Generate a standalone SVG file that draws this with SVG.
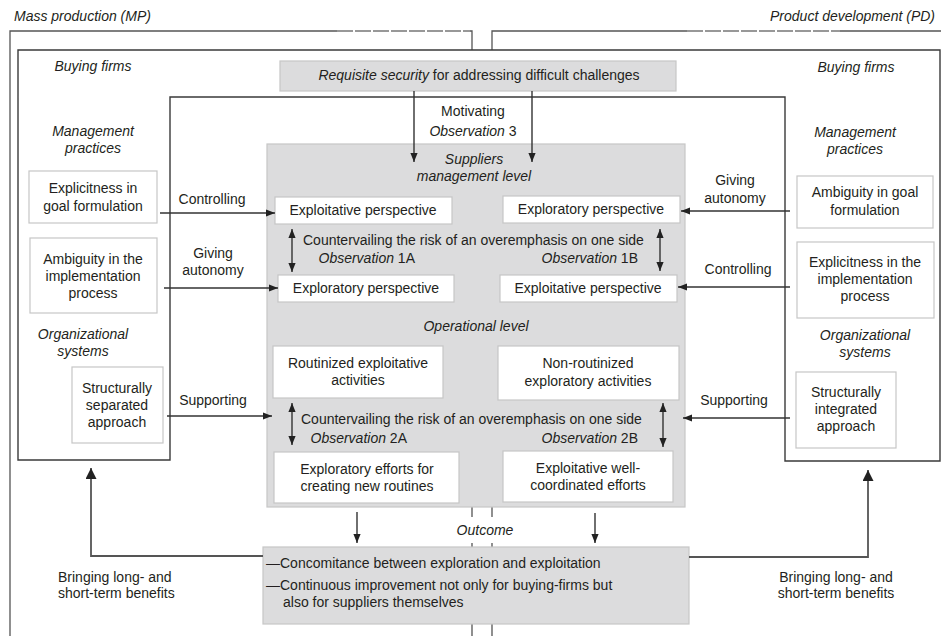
<svg xmlns="http://www.w3.org/2000/svg" width="941" height="636" viewBox="0 0 941 636">
<defs>
<style>
text{font-family:"Liberation Sans",Arial,Helvetica,sans-serif;font-size:14px;fill:#231f20}
.i{font-style:italic}
.m{text-anchor:middle}
.frame{fill:none;stroke:#555;stroke-width:1.3}
.dash{fill:none;stroke:#777;stroke-width:1.3;stroke-dasharray:16 2}
.inner{fill:#fff;stroke:#3a3a3a;stroke-width:1.4}
.grey{fill:#dcdcdd;stroke:#c6c6c6;stroke-width:1.2}
.box{fill:#fff;stroke:#c6c6c6;stroke-width:1.2}
.con{fill:none;stroke:#333;stroke-width:1.4}
.fb{fill:none;stroke:#555;stroke-width:1.8}
</style>
<marker id="ah" viewBox="0 0 10 8" refX="10" refY="4" markerWidth="9" markerHeight="8" markerUnits="userSpaceOnUse" orient="auto-start-reverse">
<path d="M0,0 L10,4 L0,8 z" fill="#222"/>
</marker>
<marker id="ahb" viewBox="0 0 10 10" refX="10" refY="5" markerWidth="11" markerHeight="11" markerUnits="userSpaceOnUse" orient="auto">
<path d="M0,0 L10,5 L0,10 z" fill="#222"/>
</marker>
</defs>

<g id="outer-frames">
<path class="frame" d="M10,636 V31 H337"/>
<path class="dash" d="M337,31 H470"/>
<path class="frame" d="M470,31 H472 V50"/>
<path class="frame" d="M492,50 V31 H687"/>
<path class="dash" d="M687,31 H840"/>
<path class="frame" d="M840,31 H941"/>
<path class="frame" d="M472,507 V517 M492,507 V517 M472,543 V547 M492,543 V547 M472,624 V636 M492,624 V636"/>
<text x="14" y="21" class="i">Mass production (MP)</text>
<text x="935" y="21" class="i" text-anchor="end">Product development (PD)</text>
</g>

<g id="buying-firms">
<path class="inner" d="M18,50 H940 V461 H785 V97 H170 V460 H18 Z"/>
<text x="93" y="71" class="i m">Buying firms</text>
<text x="856" y="72" class="i m">Buying firms</text>
<text x="93" y="136" class="i m">Management</text>
<text x="93" y="153" class="i m">practices</text>
<text x="855" y="137" class="i m">Management</text>
<text x="855" y="154" class="i m">practices</text>
<text x="83" y="339" class="i m">Organizational</text>
<text x="83" y="356" class="i m">systems</text>
<text x="865" y="340" class="i m">Organizational</text>
<text x="865" y="357" class="i m">systems</text>
</g>

<g id="requisite-security">
<rect class="grey" x="280" y="61" width="396" height="30"/>
<text x="479" y="80" class="m"><tspan class="i">Requisite security</tspan> for addressing difficult challenges</text>
</g>

<g id="motivating">
<text x="473" y="116" class="m">Motivating</text>
<text x="473" y="136" class="m"><tspan class="i">Observation</tspan> 3</text>
</g>

<g id="suppliers-area">
<rect class="grey" x="267" y="144" width="418" height="363"/>
<text x="474" y="164" class="i m">Suppliers</text>
<text x="474" y="181" class="i m">management level</text>
<text x="476" y="331" class="i m">Operational level</text>
<text x="303" y="245">Countervailing the risk of an overemphasis on one side</text>
<text x="415" y="263" text-anchor="end"><tspan class="i">Observation</tspan> 1A</text>
<text x="638" y="263" text-anchor="end"><tspan class="i">Observation</tspan> 1B</text>
<text x="301" y="424">Countervailing the risk of an overemphasis on one side</text>
<text x="407" y="443" text-anchor="end"><tspan class="i">Observation</tspan> 2A</text>
<text x="638" y="443" text-anchor="end"><tspan class="i">Observation</tspan> 2B</text>
</g>

<g id="left-exploitative-perspective">
<rect class="box" x="275" y="197" width="177" height="27"/>
<text x="363" y="215" class="m">Exploitative perspective</text>
</g>
<g id="left-exploratory-perspective">
<rect class="box" x="278" y="275" width="176" height="27"/>
<text x="366" y="293" class="m">Exploratory perspective</text>
</g>
<g id="right-exploratory-perspective">
<rect class="box" x="503" y="196" width="177" height="27"/>
<text x="591" y="214" class="m">Exploratory perspective</text>
</g>
<g id="right-exploitative-perspective">
<rect class="box" x="500" y="275" width="177" height="27"/>
<text x="588" y="293" class="m">Exploitative perspective</text>
</g>

<g id="routinized">
<rect class="box" x="273" y="346" width="170" height="52"/>
<text x="358" y="368" class="m">Routinized exploitative</text>
<text x="358" y="385" class="m">activities</text>
</g>
<g id="non-routinized">
<rect class="box" x="498" y="346" width="181" height="54"/>
<text x="588" y="368" class="m">Non-routinized</text>
<text x="588" y="386" class="m">exploratory activities</text>
</g>
<g id="exploratory-efforts">
<rect class="box" x="274" y="452" width="185" height="51"/>
<text x="367" y="474" class="m">Exploratory efforts for</text>
<text x="367" y="491" class="m">creating new routines</text>
</g>
<g id="exploitative-efforts">
<rect class="box" x="503" y="451" width="170" height="51"/>
<text x="588" y="473" class="m">Exploitative well-</text>
<text x="588" y="490" class="m">coordinated efforts</text>
</g>

<g id="mp-explicitness-goal">
<rect class="box" x="29" y="171" width="128" height="52"/>
<text x="93" y="193" class="m">Explicitness in</text>
<text x="93" y="211" class="m">goal formulation</text>
</g>
<g id="mp-ambiguity-implementation">
<rect class="box" x="30" y="238" width="127" height="75"/>
<text x="93" y="264" class="m">Ambiguity in the</text>
<text x="93" y="281" class="m">implementation</text>
<text x="93" y="298" class="m">process</text>
</g>
<g id="mp-structurally-separated">
<rect class="box" x="72" y="367" width="91" height="76"/>
<text x="117" y="393" class="m">Structurally</text>
<text x="117" y="410" class="m">separated</text>
<text x="117" y="427" class="m">approach</text>
</g>

<g id="pd-ambiguity-goal">
<rect class="box" x="797" y="176" width="136" height="52"/>
<text x="865" y="197" class="m">Ambiguity in goal</text>
<text x="865" y="215" class="m">formulation</text>
</g>
<g id="pd-explicitness-implementation">
<rect class="box" x="797" y="242" width="137" height="76"/>
<text x="865" y="267" class="m">Explicitness in the</text>
<text x="865" y="284" class="m">implementation</text>
<text x="865" y="301" class="m">process</text>
</g>
<g id="pd-structurally-integrated">
<rect class="box" x="796" y="372" width="100" height="76"/>
<text x="846" y="397" class="m">Structurally</text>
<text x="846" y="414" class="m">integrated</text>
<text x="846" y="431" class="m">approach</text>
</g>

<g id="outcome">
<text x="485" y="535" class="i m">Outcome</text>
<rect class="grey" x="263" y="547" width="426" height="77"/>
<text x="266" y="568">—Concomitance between exploration and exploitation</text>
<text x="266" y="590">—Continuous improvement not only for buying-firms but</text>
<text x="283" y="607">also for suppliers themselves</text>
</g>

<g id="connectors">
<path class="con" d="M414,91 V162" marker-end="url(#ah)"/>
<path class="con" d="M532,91 V162" marker-end="url(#ah)"/>
<path class="con" d="M160,213 H275" marker-end="url(#ah)"/>
<path class="con" d="M164,288 H278" marker-end="url(#ah)"/>
<path class="con" d="M167,416 H272" marker-end="url(#ah)"/>
<path class="con" d="M790,211 H681" marker-end="url(#ah)"/>
<path class="con" d="M790,287 H678" marker-end="url(#ah)"/>
<path class="con" d="M790,418 H683" marker-end="url(#ah)"/>
<path class="con" d="M292,229 V272" marker-start="url(#ah)" marker-end="url(#ah)"/>
<path class="con" d="M660,229 V271" marker-start="url(#ah)" marker-end="url(#ah)"/>
<path class="con" d="M292,403 V445" marker-start="url(#ah)" marker-end="url(#ah)"/>
<path class="con" d="M663,403 V447" marker-start="url(#ah)" marker-end="url(#ah)"/>
<path class="con" d="M357,512 V543" marker-end="url(#ah)"/>
<path class="con" d="M595,513 V543" marker-end="url(#ah)"/>
<path class="fb" d="M263,556 H91 V468" marker-end="url(#ahb)"/>
<path class="fb" d="M689,557 H868 V470" marker-end="url(#ahb)"/>
<text x="212" y="204" class="m">Controlling</text>
<text x="213" y="258" class="m">Giving</text>
<text x="213" y="275" class="m">autonomy</text>
<text x="213" y="405" class="m">Supporting</text>
<text x="735" y="185" class="m">Giving</text>
<text x="735" y="203" class="m">autonomy</text>
<text x="738" y="274" class="m">Controlling</text>
<text x="734" y="405" class="m">Supporting</text>
<text x="58" y="582">Bringing long- and</text>
<text x="58" y="598">short-term benefits</text>
<text x="836" y="582" class="m">Bringing long- and</text>
<text x="836" y="598" class="m">short-term benefits</text>
</g>
</svg>
